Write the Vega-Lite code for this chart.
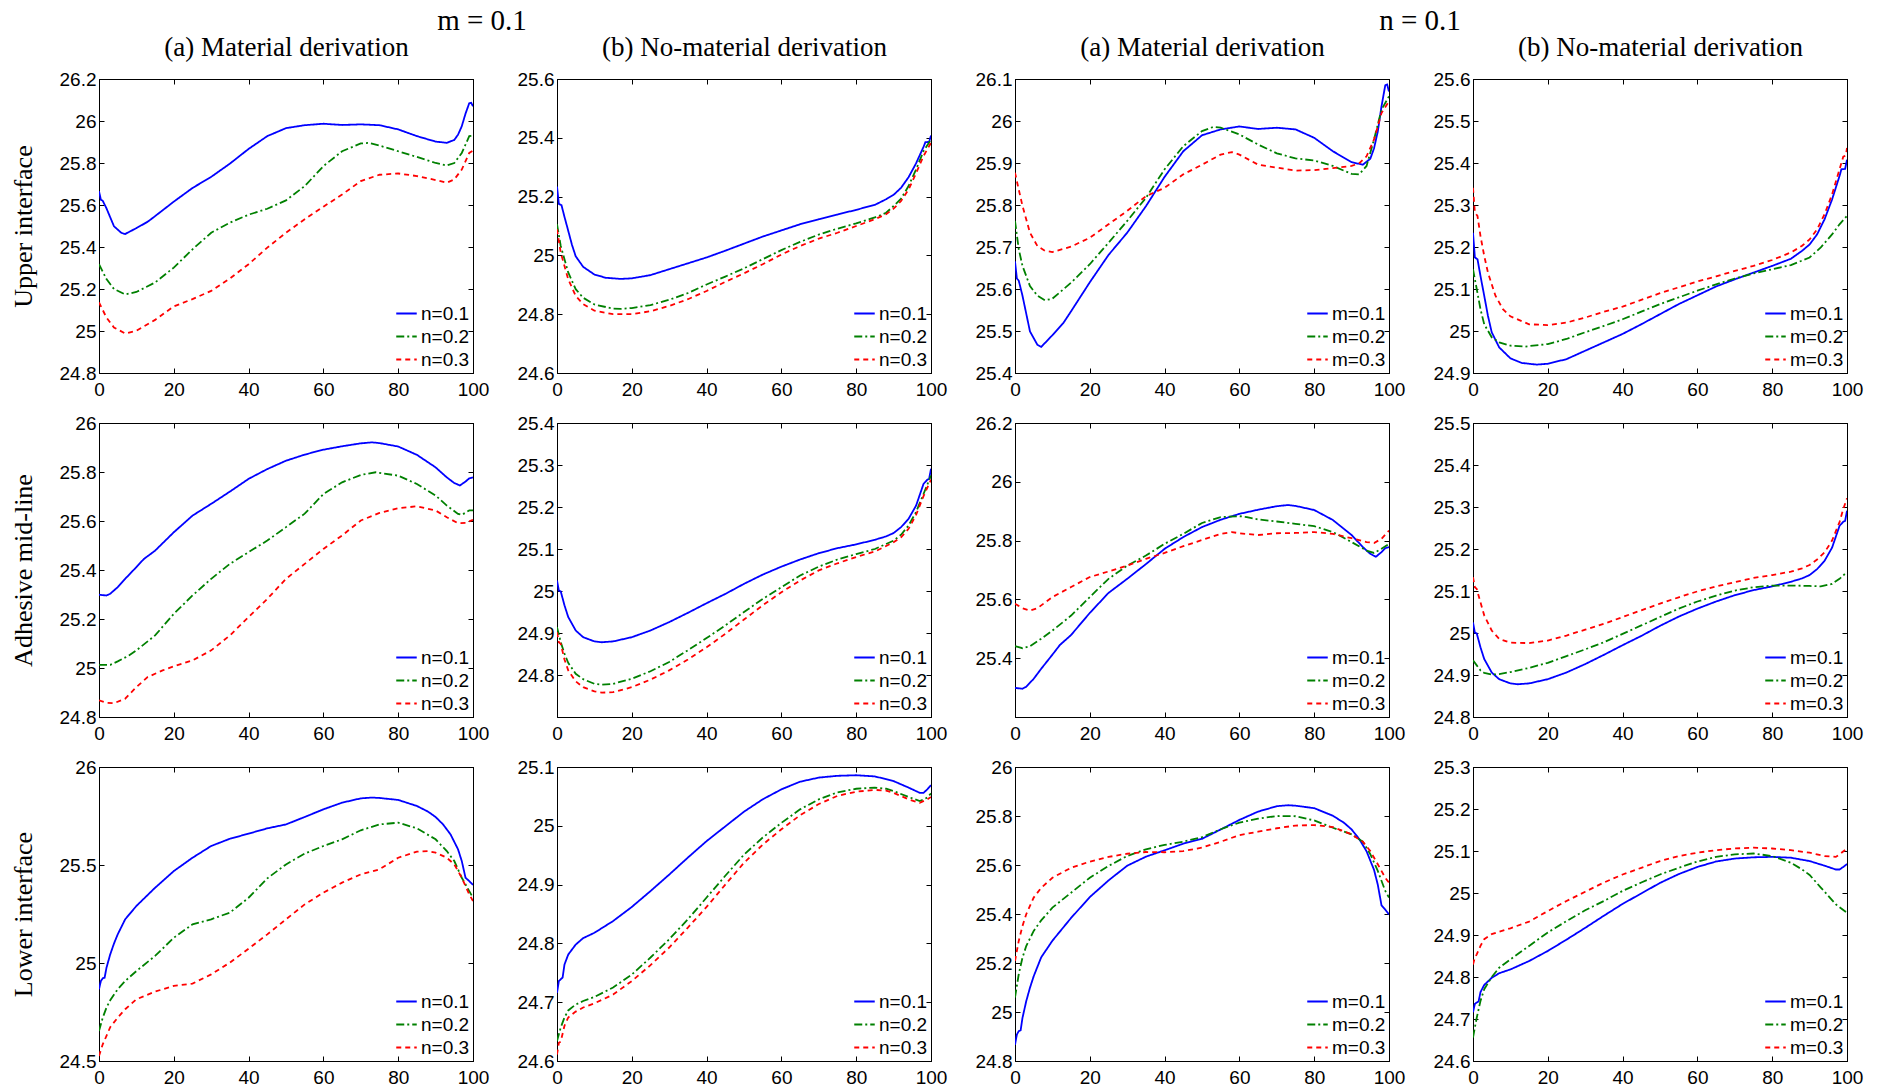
{
"$schema": "https://vega.github.io/schema/vega-lite/v6.json",
"background": "white",
"padding": {"left": 9, "top": 6, "right": 5, "bottom": 5},
"config": {
  "view": {"stroke": "black", "strokeWidth": 1},
  "axis": {"grid": false, "domainColor": "black", "domainWidth": 1, "tickColor": "black", "tickSize": -5, "tickWidth": 1, "labelColor": "black", "labelFont": "Liberation Sans", "labelFontSize": 19, "labelFlush": false, "labelOverlap": false, "titleColor": "black", "titleFont": "Liberation Serif", "titleFontSize": 26, "titleFontWeight": "normal"},
  "axisX": {"labelPadding": 12, "titlePadding": 17},
  "axisY": {"labelPadding": 8, "titlePadding": 23},
  "legend": {"orient": "bottom-right", "offset": 3, "padding": 0, "labelFont": "Liberation Sans", "labelFontSize": 19, "labelColor": "black", "symbolType": "stroke", "symbolSize": 420, "symbolStrokeWidth": 1.8, "rowPadding": 1, "labelOffset": 3},
  "title": {"font": "Liberation Serif", "fontSize": 29, "fontWeight": "normal", "color": "black", "anchor": "middle", "offset": -2}
},
"data": {"values": [
{"p":1,"s":"n=0.1","x":0,"y":25.666},{"p":1,"s":"n=0.1","x":0.5,"y":25.625},{"p":1,"s":"n=0.1","x":1,"y":25.62},{"p":1,"s":"n=0.1","x":2,"y":25.584},{"p":1,"s":"n=0.1","x":4,"y":25.499},{"p":1,"s":"n=0.1","x":6,"y":25.467},{"p":1,"s":"n=0.1","x":7,"y":25.462},{"p":1,"s":"n=0.1","x":10,"y":25.49},{"p":1,"s":"n=0.1","x":13,"y":25.52},{"p":1,"s":"n=0.1","x":15,"y":25.547},{"p":1,"s":"n=0.1","x":20,"y":25.616},{"p":1,"s":"n=0.1","x":25,"y":25.681},{"p":1,"s":"n=0.1","x":30,"y":25.734},{"p":1,"s":"n=0.1","x":35,"y":25.797},{"p":1,"s":"n=0.1","x":40,"y":25.867},{"p":1,"s":"n=0.1","x":45,"y":25.928},{"p":1,"s":"n=0.1","x":50,"y":25.966},{"p":1,"s":"n=0.1","x":55,"y":25.98},{"p":1,"s":"n=0.1","x":60,"y":25.987},{"p":1,"s":"n=0.1","x":65,"y":25.981},{"p":1,"s":"n=0.1","x":70,"y":25.984},{"p":1,"s":"n=0.1","x":75,"y":25.98},{"p":1,"s":"n=0.1","x":80,"y":25.96},{"p":1,"s":"n=0.1","x":85,"y":25.928},{"p":1,"s":"n=0.1","x":90,"y":25.902},{"p":1,"s":"n=0.1","x":93,"y":25.896},{"p":1,"s":"n=0.1","x":95,"y":25.91},{"p":1,"s":"n=0.1","x":96,"y":25.935},{"p":1,"s":"n=0.1","x":97,"y":25.975},{"p":1,"s":"n=0.1","x":98,"y":26.035},{"p":1,"s":"n=0.1","x":99,"y":26.085},{"p":1,"s":"n=0.1","x":99.5,"y":26.087},{"p":1,"s":"n=0.1","x":100,"y":26.07},
{"p":1,"s":"n=0.2","x":0,"y":25.318},{"p":1,"s":"n=0.2","x":2,"y":25.247},{"p":1,"s":"n=0.2","x":4,"y":25.2},{"p":1,"s":"n=0.2","x":7,"y":25.174},{"p":1,"s":"n=0.2","x":10,"y":25.186},{"p":1,"s":"n=0.2","x":15,"y":25.231},{"p":1,"s":"n=0.2","x":20,"y":25.302},{"p":1,"s":"n=0.2","x":25,"y":25.389},{"p":1,"s":"n=0.2","x":30,"y":25.468},{"p":1,"s":"n=0.2","x":35,"y":25.516},{"p":1,"s":"n=0.2","x":40,"y":25.554},{"p":1,"s":"n=0.2","x":45,"y":25.582},{"p":1,"s":"n=0.2","x":50,"y":25.622},{"p":1,"s":"n=0.2","x":55,"y":25.69},{"p":1,"s":"n=0.2","x":60,"y":25.785},{"p":1,"s":"n=0.2","x":65,"y":25.856},{"p":1,"s":"n=0.2","x":70,"y":25.893},{"p":1,"s":"n=0.2","x":72,"y":25.896},{"p":1,"s":"n=0.2","x":75,"y":25.883},{"p":1,"s":"n=0.2","x":80,"y":25.856},{"p":1,"s":"n=0.2","x":85,"y":25.829},{"p":1,"s":"n=0.2","x":90,"y":25.8},{"p":1,"s":"n=0.2","x":93,"y":25.788},{"p":1,"s":"n=0.2","x":95,"y":25.8},{"p":1,"s":"n=0.2","x":97,"y":25.848},{"p":1,"s":"n=0.2","x":99,"y":25.928},{"p":1,"s":"n=0.2","x":100,"y":25.93},
{"p":1,"s":"n=0.3","x":0,"y":25.136},{"p":1,"s":"n=0.3","x":2,"y":25.064},{"p":1,"s":"n=0.3","x":4,"y":25.017},{"p":1,"s":"n=0.3","x":7,"y":24.988},{"p":1,"s":"n=0.3","x":10,"y":25.001},{"p":1,"s":"n=0.3","x":15,"y":25.053},{"p":1,"s":"n=0.3","x":20,"y":25.117},{"p":1,"s":"n=0.3","x":25,"y":25.152},{"p":1,"s":"n=0.3","x":30,"y":25.191},{"p":1,"s":"n=0.3","x":35,"y":25.25},{"p":1,"s":"n=0.3","x":40,"y":25.318},{"p":1,"s":"n=0.3","x":45,"y":25.397},{"p":1,"s":"n=0.3","x":50,"y":25.468},{"p":1,"s":"n=0.3","x":55,"y":25.532},{"p":1,"s":"n=0.3","x":60,"y":25.592},{"p":1,"s":"n=0.3","x":65,"y":25.65},{"p":1,"s":"n=0.3","x":70,"y":25.714},{"p":1,"s":"n=0.3","x":75,"y":25.744},{"p":1,"s":"n=0.3","x":80,"y":25.75},{"p":1,"s":"n=0.3","x":85,"y":25.738},{"p":1,"s":"n=0.3","x":90,"y":25.719},{"p":1,"s":"n=0.3","x":93,"y":25.706},{"p":1,"s":"n=0.3","x":95,"y":25.722},{"p":1,"s":"n=0.3","x":97,"y":25.769},{"p":1,"s":"n=0.3","x":99,"y":25.848},{"p":1,"s":"n=0.3","x":100,"y":25.859},

{"p":2,"s":"n=0.1","x":0,"y":25.234},{"p":2,"s":"n=0.1","x":0.5,"y":25.175},{"p":2,"s":"n=0.1","x":1.2,"y":25.171},{"p":2,"s":"n=0.1","x":2,"y":25.131},{"p":2,"s":"n=0.1","x":3,"y":25.084},{"p":2,"s":"n=0.1","x":4,"y":25.036},{"p":2,"s":"n=0.1","x":5,"y":24.997},{"p":2,"s":"n=0.1","x":7,"y":24.961},{"p":2,"s":"n=0.1","x":10,"y":24.935},{"p":2,"s":"n=0.1","x":13,"y":24.924},{"p":2,"s":"n=0.1","x":17,"y":24.92},{"p":2,"s":"n=0.1","x":20,"y":24.922},{"p":2,"s":"n=0.1","x":25,"y":24.933},{"p":2,"s":"n=0.1","x":30,"y":24.953},{"p":2,"s":"n=0.1","x":35,"y":24.973},{"p":2,"s":"n=0.1","x":40,"y":24.993},{"p":2,"s":"n=0.1","x":45,"y":25.016},{"p":2,"s":"n=0.1","x":50,"y":25.04},{"p":2,"s":"n=0.1","x":55,"y":25.064},{"p":2,"s":"n=0.1","x":60,"y":25.085},{"p":2,"s":"n=0.1","x":65,"y":25.106},{"p":2,"s":"n=0.1","x":70,"y":25.123},{"p":2,"s":"n=0.1","x":75,"y":25.139},{"p":2,"s":"n=0.1","x":80,"y":25.155},{"p":2,"s":"n=0.1","x":85,"y":25.172},{"p":2,"s":"n=0.1","x":88,"y":25.191},{"p":2,"s":"n=0.1","x":90,"y":25.206},{"p":2,"s":"n=0.1","x":92,"y":25.23},{"p":2,"s":"n=0.1","x":94,"y":25.266},{"p":2,"s":"n=0.1","x":96,"y":25.313},{"p":2,"s":"n=0.1","x":98,"y":25.369},{"p":2,"s":"n=0.1","x":98.5,"y":25.385},{"p":2,"s":"n=0.1","x":99.5,"y":25.386},{"p":2,"s":"n=0.1","x":100,"y":25.408},
{"p":2,"s":"n=0.2","x":0,"y":25.106},{"p":2,"s":"n=0.2","x":1,"y":25.032},{"p":2,"s":"n=0.2","x":2,"y":24.987},{"p":2,"s":"n=0.2","x":3,"y":24.942},{"p":2,"s":"n=0.2","x":5,"y":24.885},{"p":2,"s":"n=0.2","x":7,"y":24.856},{"p":2,"s":"n=0.2","x":10,"y":24.833},{"p":2,"s":"n=0.2","x":15,"y":24.819},{"p":2,"s":"n=0.2","x":17,"y":24.818},{"p":2,"s":"n=0.2","x":20,"y":24.821},{"p":2,"s":"n=0.2","x":25,"y":24.831},{"p":2,"s":"n=0.2","x":30,"y":24.849},{"p":2,"s":"n=0.2","x":35,"y":24.872},{"p":2,"s":"n=0.2","x":40,"y":24.901},{"p":2,"s":"n=0.2","x":45,"y":24.928},{"p":2,"s":"n=0.2","x":50,"y":24.956},{"p":2,"s":"n=0.2","x":55,"y":24.987},{"p":2,"s":"n=0.2","x":60,"y":25.018},{"p":2,"s":"n=0.2","x":65,"y":25.046},{"p":2,"s":"n=0.2","x":70,"y":25.071},{"p":2,"s":"n=0.2","x":75,"y":25.091},{"p":2,"s":"n=0.2","x":80,"y":25.109},{"p":2,"s":"n=0.2","x":85,"y":25.129},{"p":2,"s":"n=0.2","x":88,"y":25.145},{"p":2,"s":"n=0.2","x":90,"y":25.168},{"p":2,"s":"n=0.2","x":92,"y":25.193},{"p":2,"s":"n=0.2","x":94,"y":25.236},{"p":2,"s":"n=0.2","x":96,"y":25.292},{"p":2,"s":"n=0.2","x":98,"y":25.355},{"p":2,"s":"n=0.2","x":100,"y":25.394},
{"p":2,"s":"n=0.3","x":0,"y":25.089},{"p":2,"s":"n=0.3","x":1,"y":25.009},{"p":2,"s":"n=0.3","x":2,"y":24.964},{"p":2,"s":"n=0.3","x":3,"y":24.919},{"p":2,"s":"n=0.3","x":5,"y":24.862},{"p":2,"s":"n=0.3","x":7,"y":24.834},{"p":2,"s":"n=0.3","x":10,"y":24.812},{"p":2,"s":"n=0.3","x":15,"y":24.8},{"p":2,"s":"n=0.3","x":20,"y":24.8},{"p":2,"s":"n=0.3","x":25,"y":24.81},{"p":2,"s":"n=0.3","x":30,"y":24.828},{"p":2,"s":"n=0.3","x":35,"y":24.851},{"p":2,"s":"n=0.3","x":40,"y":24.879},{"p":2,"s":"n=0.3","x":45,"y":24.91},{"p":2,"s":"n=0.3","x":50,"y":24.939},{"p":2,"s":"n=0.3","x":55,"y":24.97},{"p":2,"s":"n=0.3","x":60,"y":25.003},{"p":2,"s":"n=0.3","x":65,"y":25.032},{"p":2,"s":"n=0.3","x":70,"y":25.057},{"p":2,"s":"n=0.3","x":75,"y":25.077},{"p":2,"s":"n=0.3","x":80,"y":25.1},{"p":2,"s":"n=0.3","x":85,"y":25.123},{"p":2,"s":"n=0.3","x":88,"y":25.14},{"p":2,"s":"n=0.3","x":90,"y":25.159},{"p":2,"s":"n=0.3","x":92,"y":25.185},{"p":2,"s":"n=0.3","x":94,"y":25.224},{"p":2,"s":"n=0.3","x":96,"y":25.279},{"p":2,"s":"n=0.3","x":98,"y":25.338},{"p":2,"s":"n=0.3","x":100,"y":25.383},

{"p":3,"s":"m=0.1","x":0,"y":25.666},{"p":3,"s":"m=0.1","x":0.5,"y":25.625},{"p":3,"s":"m=0.1","x":1,"y":25.62},{"p":3,"s":"m=0.1","x":2,"y":25.584},{"p":3,"s":"m=0.1","x":4,"y":25.499},{"p":3,"s":"m=0.1","x":6,"y":25.467},{"p":3,"s":"m=0.1","x":7,"y":25.462},{"p":3,"s":"m=0.1","x":10,"y":25.49},{"p":3,"s":"m=0.1","x":13,"y":25.52},{"p":3,"s":"m=0.1","x":15,"y":25.547},{"p":3,"s":"m=0.1","x":20,"y":25.616},{"p":3,"s":"m=0.1","x":25,"y":25.681},{"p":3,"s":"m=0.1","x":30,"y":25.734},{"p":3,"s":"m=0.1","x":35,"y":25.797},{"p":3,"s":"m=0.1","x":40,"y":25.867},{"p":3,"s":"m=0.1","x":45,"y":25.928},{"p":3,"s":"m=0.1","x":50,"y":25.966},{"p":3,"s":"m=0.1","x":55,"y":25.98},{"p":3,"s":"m=0.1","x":60,"y":25.987},{"p":3,"s":"m=0.1","x":65,"y":25.981},{"p":3,"s":"m=0.1","x":70,"y":25.984},{"p":3,"s":"m=0.1","x":75,"y":25.98},{"p":3,"s":"m=0.1","x":80,"y":25.96},{"p":3,"s":"m=0.1","x":85,"y":25.928},{"p":3,"s":"m=0.1","x":90,"y":25.902},{"p":3,"s":"m=0.1","x":93,"y":25.896},{"p":3,"s":"m=0.1","x":95,"y":25.91},{"p":3,"s":"m=0.1","x":96,"y":25.935},{"p":3,"s":"m=0.1","x":97,"y":25.975},{"p":3,"s":"m=0.1","x":98,"y":26.035},{"p":3,"s":"m=0.1","x":99,"y":26.085},{"p":3,"s":"m=0.1","x":99.5,"y":26.087},{"p":3,"s":"m=0.1","x":100,"y":26.07},
{"p":3,"s":"m=0.2","x":0,"y":25.762},{"p":3,"s":"m=0.2","x":1,"y":25.695},{"p":3,"s":"m=0.2","x":2,"y":25.655},{"p":3,"s":"m=0.2","x":4,"y":25.607},{"p":3,"s":"m=0.2","x":6,"y":25.584},{"p":3,"s":"m=0.2","x":8,"y":25.573},{"p":3,"s":"m=0.2","x":10,"y":25.577},{"p":3,"s":"m=0.2","x":15,"y":25.615},{"p":3,"s":"m=0.2","x":20,"y":25.659},{"p":3,"s":"m=0.2","x":25,"y":25.71},{"p":3,"s":"m=0.2","x":30,"y":25.762},{"p":3,"s":"m=0.2","x":35,"y":25.817},{"p":3,"s":"m=0.2","x":40,"y":25.885},{"p":3,"s":"m=0.2","x":45,"y":25.94},{"p":3,"s":"m=0.2","x":50,"y":25.976},{"p":3,"s":"m=0.2","x":53,"y":25.986},{"p":3,"s":"m=0.2","x":55,"y":25.984},{"p":3,"s":"m=0.2","x":60,"y":25.968},{"p":3,"s":"m=0.2","x":65,"y":25.944},{"p":3,"s":"m=0.2","x":70,"y":25.923},{"p":3,"s":"m=0.2","x":75,"y":25.911},{"p":3,"s":"m=0.2","x":80,"y":25.906},{"p":3,"s":"m=0.2","x":85,"y":25.893},{"p":3,"s":"m=0.2","x":90,"y":25.874},{"p":3,"s":"m=0.2","x":92,"y":25.873},{"p":3,"s":"m=0.2","x":94,"y":25.893},{"p":3,"s":"m=0.2","x":96,"y":25.956},{"p":3,"s":"m=0.2","x":98,"y":26.027},{"p":3,"s":"m=0.2","x":100,"y":26.059},
{"p":3,"s":"m=0.3","x":0,"y":25.877},{"p":3,"s":"m=0.3","x":1,"y":25.837},{"p":3,"s":"m=0.3","x":2,"y":25.798},{"p":3,"s":"m=0.3","x":4,"y":25.734},{"p":3,"s":"m=0.3","x":6,"y":25.702},{"p":3,"s":"m=0.3","x":8,"y":25.691},{"p":3,"s":"m=0.3","x":10,"y":25.688},{"p":3,"s":"m=0.3","x":15,"y":25.701},{"p":3,"s":"m=0.3","x":20,"y":25.722},{"p":3,"s":"m=0.3","x":25,"y":25.754},{"p":3,"s":"m=0.3","x":30,"y":25.786},{"p":3,"s":"m=0.3","x":35,"y":25.821},{"p":3,"s":"m=0.3","x":40,"y":25.841},{"p":3,"s":"m=0.3","x":45,"y":25.873},{"p":3,"s":"m=0.3","x":50,"y":25.896},{"p":3,"s":"m=0.3","x":55,"y":25.92},{"p":3,"s":"m=0.3","x":58,"y":25.926},{"p":3,"s":"m=0.3","x":60,"y":25.92},{"p":3,"s":"m=0.3","x":65,"y":25.896},{"p":3,"s":"m=0.3","x":70,"y":25.889},{"p":3,"s":"m=0.3","x":75,"y":25.882},{"p":3,"s":"m=0.3","x":80,"y":25.883},{"p":3,"s":"m=0.3","x":85,"y":25.888},{"p":3,"s":"m=0.3","x":90,"y":25.893},{"p":3,"s":"m=0.3","x":92,"y":25.899},{"p":3,"s":"m=0.3","x":94,"y":25.916},{"p":3,"s":"m=0.3","x":96,"y":25.956},{"p":3,"s":"m=0.3","x":98,"y":26.019},{"p":3,"s":"m=0.3","x":100,"y":26.047},

{"p":4,"s":"m=0.1","x":0,"y":25.234},{"p":4,"s":"m=0.1","x":0.5,"y":25.175},{"p":4,"s":"m=0.1","x":1.2,"y":25.171},{"p":4,"s":"m=0.1","x":2,"y":25.131},{"p":4,"s":"m=0.1","x":3,"y":25.084},{"p":4,"s":"m=0.1","x":4,"y":25.036},{"p":4,"s":"m=0.1","x":5,"y":24.997},{"p":4,"s":"m=0.1","x":7,"y":24.961},{"p":4,"s":"m=0.1","x":10,"y":24.935},{"p":4,"s":"m=0.1","x":13,"y":24.924},{"p":4,"s":"m=0.1","x":17,"y":24.92},{"p":4,"s":"m=0.1","x":20,"y":24.922},{"p":4,"s":"m=0.1","x":25,"y":24.933},{"p":4,"s":"m=0.1","x":30,"y":24.953},{"p":4,"s":"m=0.1","x":35,"y":24.973},{"p":4,"s":"m=0.1","x":40,"y":24.993},{"p":4,"s":"m=0.1","x":45,"y":25.016},{"p":4,"s":"m=0.1","x":50,"y":25.04},{"p":4,"s":"m=0.1","x":55,"y":25.064},{"p":4,"s":"m=0.1","x":60,"y":25.085},{"p":4,"s":"m=0.1","x":65,"y":25.106},{"p":4,"s":"m=0.1","x":70,"y":25.123},{"p":4,"s":"m=0.1","x":75,"y":25.139},{"p":4,"s":"m=0.1","x":80,"y":25.155},{"p":4,"s":"m=0.1","x":85,"y":25.172},{"p":4,"s":"m=0.1","x":88,"y":25.191},{"p":4,"s":"m=0.1","x":90,"y":25.206},{"p":4,"s":"m=0.1","x":92,"y":25.23},{"p":4,"s":"m=0.1","x":94,"y":25.266},{"p":4,"s":"m=0.1","x":96,"y":25.313},{"p":4,"s":"m=0.1","x":98,"y":25.369},{"p":4,"s":"m=0.1","x":98.5,"y":25.385},{"p":4,"s":"m=0.1","x":99.5,"y":25.386},{"p":4,"s":"m=0.1","x":100,"y":25.408},
{"p":4,"s":"m=0.2","x":0,"y":25.147},{"p":4,"s":"m=0.2","x":1,"y":25.1},{"p":4,"s":"m=0.2","x":2,"y":25.052},{"p":4,"s":"m=0.2","x":3,"y":25.016},{"p":4,"s":"m=0.2","x":5,"y":24.985},{"p":4,"s":"m=0.2","x":7,"y":24.973},{"p":4,"s":"m=0.2","x":10,"y":24.965},{"p":4,"s":"m=0.2","x":14,"y":24.963},{"p":4,"s":"m=0.2","x":20,"y":24.969},{"p":4,"s":"m=0.2","x":25,"y":24.981},{"p":4,"s":"m=0.2","x":30,"y":24.997},{"p":4,"s":"m=0.2","x":35,"y":25.012},{"p":4,"s":"m=0.2","x":40,"y":25.028},{"p":4,"s":"m=0.2","x":45,"y":25.046},{"p":4,"s":"m=0.2","x":50,"y":25.064},{"p":4,"s":"m=0.2","x":55,"y":25.08},{"p":4,"s":"m=0.2","x":60,"y":25.096},{"p":4,"s":"m=0.2","x":65,"y":25.111},{"p":4,"s":"m=0.2","x":70,"y":25.125},{"p":4,"s":"m=0.2","x":75,"y":25.137},{"p":4,"s":"m=0.2","x":80,"y":25.147},{"p":4,"s":"m=0.2","x":85,"y":25.157},{"p":4,"s":"m=0.2","x":90,"y":25.175},{"p":4,"s":"m=0.2","x":93,"y":25.199},{"p":4,"s":"m=0.2","x":96,"y":25.23},{"p":4,"s":"m=0.2","x":98,"y":25.254},{"p":4,"s":"m=0.2","x":100,"y":25.274},
{"p":4,"s":"m=0.3","x":0,"y":25.341},{"p":4,"s":"m=0.3","x":0.5,"y":25.282},{"p":4,"s":"m=0.3","x":1.2,"y":25.274},{"p":4,"s":"m=0.3","x":2,"y":25.226},{"p":4,"s":"m=0.3","x":3,"y":25.179},{"p":4,"s":"m=0.3","x":4,"y":25.139},{"p":4,"s":"m=0.3","x":6,"y":25.084},{"p":4,"s":"m=0.3","x":8,"y":25.052},{"p":4,"s":"m=0.3","x":10,"y":25.035},{"p":4,"s":"m=0.3","x":15,"y":25.016},{"p":4,"s":"m=0.3","x":20,"y":25.014},{"p":4,"s":"m=0.3","x":25,"y":25.02},{"p":4,"s":"m=0.3","x":30,"y":25.032},{"p":4,"s":"m=0.3","x":35,"y":25.046},{"p":4,"s":"m=0.3","x":40,"y":25.058},{"p":4,"s":"m=0.3","x":45,"y":25.074},{"p":4,"s":"m=0.3","x":50,"y":25.09},{"p":4,"s":"m=0.3","x":55,"y":25.104},{"p":4,"s":"m=0.3","x":60,"y":25.118},{"p":4,"s":"m=0.3","x":65,"y":25.13},{"p":4,"s":"m=0.3","x":70,"y":25.143},{"p":4,"s":"m=0.3","x":75,"y":25.155},{"p":4,"s":"m=0.3","x":80,"y":25.169},{"p":4,"s":"m=0.3","x":85,"y":25.187},{"p":4,"s":"m=0.3","x":88,"y":25.203},{"p":4,"s":"m=0.3","x":90,"y":25.218},{"p":4,"s":"m=0.3","x":92,"y":25.242},{"p":4,"s":"m=0.3","x":94,"y":25.278},{"p":4,"s":"m=0.3","x":96,"y":25.325},{"p":4,"s":"m=0.3","x":98,"y":25.385},{"p":4,"s":"m=0.3","x":99,"y":25.415},{"p":4,"s":"m=0.3","x":99.7,"y":25.418},{"p":4,"s":"m=0.3","x":100,"y":25.436},

{"p":5,"s":"n=0.1","x":0,"y":25.299},{"p":5,"s":"n=0.1","x":2,"y":25.296},{"p":5,"s":"n=0.1","x":3,"y":25.303},{"p":5,"s":"n=0.1","x":5,"y":25.33},{"p":5,"s":"n=0.1","x":7,"y":25.364},{"p":5,"s":"n=0.1","x":10,"y":25.412},{"p":5,"s":"n=0.1","x":12,"y":25.445},{"p":5,"s":"n=0.1","x":15,"y":25.479},{"p":5,"s":"n=0.1","x":20,"y":25.554},{"p":5,"s":"n=0.1","x":25,"y":25.622},{"p":5,"s":"n=0.1","x":30,"y":25.67},{"p":5,"s":"n=0.1","x":35,"y":25.72},{"p":5,"s":"n=0.1","x":40,"y":25.772},{"p":5,"s":"n=0.1","x":45,"y":25.812},{"p":5,"s":"n=0.1","x":50,"y":25.846},{"p":5,"s":"n=0.1","x":55,"y":25.871},{"p":5,"s":"n=0.1","x":60,"y":25.891},{"p":5,"s":"n=0.1","x":65,"y":25.905},{"p":5,"s":"n=0.1","x":70,"y":25.917},{"p":5,"s":"n=0.1","x":73,"y":25.921},{"p":5,"s":"n=0.1","x":75,"y":25.918},{"p":5,"s":"n=0.1","x":80,"y":25.904},{"p":5,"s":"n=0.1","x":85,"y":25.87},{"p":5,"s":"n=0.1","x":90,"y":25.819},{"p":5,"s":"n=0.1","x":93,"y":25.778},{"p":5,"s":"n=0.1","x":95,"y":25.755},{"p":5,"s":"n=0.1","x":96.5,"y":25.745},{"p":5,"s":"n=0.1","x":98,"y":25.761},{"p":5,"s":"n=0.1","x":99,"y":25.774},{"p":5,"s":"n=0.1","x":100,"y":25.778},
{"p":5,"s":"n=0.2","x":0,"y":25.013},{"p":5,"s":"n=0.2","x":3,"y":25.013},{"p":5,"s":"n=0.2","x":5,"y":25.027},{"p":5,"s":"n=0.2","x":8,"y":25.051},{"p":5,"s":"n=0.2","x":10,"y":25.072},{"p":5,"s":"n=0.2","x":15,"y":25.133},{"p":5,"s":"n=0.2","x":20,"y":25.221},{"p":5,"s":"n=0.2","x":25,"y":25.296},{"p":5,"s":"n=0.2","x":30,"y":25.364},{"p":5,"s":"n=0.2","x":35,"y":25.425},{"p":5,"s":"n=0.2","x":40,"y":25.473},{"p":5,"s":"n=0.2","x":45,"y":25.52},{"p":5,"s":"n=0.2","x":50,"y":25.575},{"p":5,"s":"n=0.2","x":55,"y":25.63},{"p":5,"s":"n=0.2","x":60,"y":25.71},{"p":5,"s":"n=0.2","x":65,"y":25.758},{"p":5,"s":"n=0.2","x":70,"y":25.788},{"p":5,"s":"n=0.2","x":74,"y":25.799},{"p":5,"s":"n=0.2","x":80,"y":25.785},{"p":5,"s":"n=0.2","x":85,"y":25.751},{"p":5,"s":"n=0.2","x":90,"y":25.704},{"p":5,"s":"n=0.2","x":93,"y":25.663},{"p":5,"s":"n=0.2","x":96,"y":25.629},{"p":5,"s":"n=0.2","x":97,"y":25.625},{"p":5,"s":"n=0.2","x":99,"y":25.643},{"p":5,"s":"n=0.2","x":100,"y":25.643},
{"p":5,"s":"n=0.3","x":0,"y":24.868},{"p":5,"s":"n=0.3","x":2,"y":24.858},{"p":5,"s":"n=0.3","x":4,"y":24.856},{"p":5,"s":"n=0.3","x":7,"y":24.875},{"p":5,"s":"n=0.3","x":10,"y":24.922},{"p":5,"s":"n=0.3","x":13,"y":24.963},{"p":5,"s":"n=0.3","x":17,"y":24.99},{"p":5,"s":"n=0.3","x":20,"y":25.007},{"p":5,"s":"n=0.3","x":25,"y":25.031},{"p":5,"s":"n=0.3","x":30,"y":25.072},{"p":5,"s":"n=0.3","x":35,"y":25.133},{"p":5,"s":"n=0.3","x":40,"y":25.208},{"p":5,"s":"n=0.3","x":45,"y":25.282},{"p":5,"s":"n=0.3","x":50,"y":25.364},{"p":5,"s":"n=0.3","x":55,"y":25.425},{"p":5,"s":"n=0.3","x":60,"y":25.486},{"p":5,"s":"n=0.3","x":65,"y":25.541},{"p":5,"s":"n=0.3","x":70,"y":25.602},{"p":5,"s":"n=0.3","x":75,"y":25.633},{"p":5,"s":"n=0.3","x":80,"y":25.652},{"p":5,"s":"n=0.3","x":85,"y":25.66},{"p":5,"s":"n=0.3","x":90,"y":25.643},{"p":5,"s":"n=0.3","x":93,"y":25.615},{"p":5,"s":"n=0.3","x":96,"y":25.591},{"p":5,"s":"n=0.3","x":98,"y":25.592},{"p":5,"s":"n=0.3","x":100,"y":25.605},

{"p":6,"s":"n=0.1","x":0,"y":25.025},{"p":6,"s":"n=0.1","x":0.5,"y":25.001},{"p":6,"s":"n=0.1","x":1,"y":24.999},{"p":6,"s":"n=0.1","x":2,"y":24.966},{"p":6,"s":"n=0.1","x":3,"y":24.938},{"p":6,"s":"n=0.1","x":5,"y":24.906},{"p":6,"s":"n=0.1","x":7,"y":24.89},{"p":6,"s":"n=0.1","x":10,"y":24.88},{"p":6,"s":"n=0.1","x":12,"y":24.878},{"p":6,"s":"n=0.1","x":15,"y":24.88},{"p":6,"s":"n=0.1","x":20,"y":24.89},{"p":6,"s":"n=0.1","x":25,"y":24.906},{"p":6,"s":"n=0.1","x":30,"y":24.926},{"p":6,"s":"n=0.1","x":35,"y":24.948},{"p":6,"s":"n=0.1","x":40,"y":24.971},{"p":6,"s":"n=0.1","x":45,"y":24.993},{"p":6,"s":"n=0.1","x":50,"y":25.017},{"p":6,"s":"n=0.1","x":55,"y":25.039},{"p":6,"s":"n=0.1","x":60,"y":25.058},{"p":6,"s":"n=0.1","x":65,"y":25.075},{"p":6,"s":"n=0.1","x":70,"y":25.09},{"p":6,"s":"n=0.1","x":75,"y":25.102},{"p":6,"s":"n=0.1","x":80,"y":25.111},{"p":6,"s":"n=0.1","x":85,"y":25.122},{"p":6,"s":"n=0.1","x":88,"y":25.13},{"p":6,"s":"n=0.1","x":90,"y":25.138},{"p":6,"s":"n=0.1","x":92,"y":25.152},{"p":6,"s":"n=0.1","x":94,"y":25.172},{"p":6,"s":"n=0.1","x":96,"y":25.203},{"p":6,"s":"n=0.1","x":98,"y":25.255},{"p":6,"s":"n=0.1","x":99,"y":25.265},{"p":6,"s":"n=0.1","x":99.5,"y":25.267},{"p":6,"s":"n=0.1","x":100,"y":25.291},
{"p":6,"s":"n=0.2","x":0,"y":24.914},{"p":6,"s":"n=0.2","x":1,"y":24.878},{"p":6,"s":"n=0.2","x":2,"y":24.851},{"p":6,"s":"n=0.2","x":3,"y":24.829},{"p":6,"s":"n=0.2","x":5,"y":24.803},{"p":6,"s":"n=0.2","x":7,"y":24.79},{"p":6,"s":"n=0.2","x":10,"y":24.779},{"p":6,"s":"n=0.2","x":12,"y":24.777},{"p":6,"s":"n=0.2","x":15,"y":24.779},{"p":6,"s":"n=0.2","x":20,"y":24.791},{"p":6,"s":"n=0.2","x":25,"y":24.809},{"p":6,"s":"n=0.2","x":30,"y":24.831},{"p":6,"s":"n=0.2","x":35,"y":24.859},{"p":6,"s":"n=0.2","x":40,"y":24.888},{"p":6,"s":"n=0.2","x":45,"y":24.918},{"p":6,"s":"n=0.2","x":50,"y":24.95},{"p":6,"s":"n=0.2","x":55,"y":24.981},{"p":6,"s":"n=0.2","x":60,"y":25.009},{"p":6,"s":"n=0.2","x":65,"y":25.037},{"p":6,"s":"n=0.2","x":70,"y":25.058},{"p":6,"s":"n=0.2","x":75,"y":25.075},{"p":6,"s":"n=0.2","x":80,"y":25.088},{"p":6,"s":"n=0.2","x":85,"y":25.1},{"p":6,"s":"n=0.2","x":88,"y":25.112},{"p":6,"s":"n=0.2","x":90,"y":25.12},{"p":6,"s":"n=0.2","x":92,"y":25.134},{"p":6,"s":"n=0.2","x":94,"y":25.156},{"p":6,"s":"n=0.2","x":96,"y":25.188},{"p":6,"s":"n=0.2","x":98,"y":25.231},{"p":6,"s":"n=0.2","x":100,"y":25.275},
{"p":6,"s":"n=0.3","x":0,"y":24.902},{"p":6,"s":"n=0.3","x":0.5,"y":24.878},{"p":6,"s":"n=0.3","x":1,"y":24.874},{"p":6,"s":"n=0.3","x":2,"y":24.837},{"p":6,"s":"n=0.3","x":3,"y":24.811},{"p":6,"s":"n=0.3","x":5,"y":24.785},{"p":6,"s":"n=0.3","x":7,"y":24.771},{"p":6,"s":"n=0.3","x":10,"y":24.761},{"p":6,"s":"n=0.3","x":12,"y":24.758},{"p":6,"s":"n=0.3","x":15,"y":24.759},{"p":6,"s":"n=0.3","x":20,"y":24.771},{"p":6,"s":"n=0.3","x":25,"y":24.789},{"p":6,"s":"n=0.3","x":30,"y":24.811},{"p":6,"s":"n=0.3","x":35,"y":24.837},{"p":6,"s":"n=0.3","x":40,"y":24.866},{"p":6,"s":"n=0.3","x":45,"y":24.898},{"p":6,"s":"n=0.3","x":50,"y":24.932},{"p":6,"s":"n=0.3","x":55,"y":24.966},{"p":6,"s":"n=0.3","x":60,"y":24.997},{"p":6,"s":"n=0.3","x":65,"y":25.025},{"p":6,"s":"n=0.3","x":70,"y":25.049},{"p":6,"s":"n=0.3","x":75,"y":25.066},{"p":6,"s":"n=0.3","x":80,"y":25.081},{"p":6,"s":"n=0.3","x":85,"y":25.094},{"p":6,"s":"n=0.3","x":88,"y":25.107},{"p":6,"s":"n=0.3","x":90,"y":25.116},{"p":6,"s":"n=0.3","x":92,"y":25.128},{"p":6,"s":"n=0.3","x":94,"y":25.148},{"p":6,"s":"n=0.3","x":96,"y":25.181},{"p":6,"s":"n=0.3","x":98,"y":25.226},{"p":6,"s":"n=0.3","x":100,"y":25.265},

{"p":7,"s":"m=0.1","x":0,"y":25.299},{"p":7,"s":"m=0.1","x":2,"y":25.296},{"p":7,"s":"m=0.1","x":3,"y":25.303},{"p":7,"s":"m=0.1","x":5,"y":25.33},{"p":7,"s":"m=0.1","x":7,"y":25.364},{"p":7,"s":"m=0.1","x":10,"y":25.412},{"p":7,"s":"m=0.1","x":12,"y":25.445},{"p":7,"s":"m=0.1","x":15,"y":25.479},{"p":7,"s":"m=0.1","x":20,"y":25.554},{"p":7,"s":"m=0.1","x":25,"y":25.622},{"p":7,"s":"m=0.1","x":30,"y":25.67},{"p":7,"s":"m=0.1","x":35,"y":25.72},{"p":7,"s":"m=0.1","x":40,"y":25.772},{"p":7,"s":"m=0.1","x":45,"y":25.812},{"p":7,"s":"m=0.1","x":50,"y":25.846},{"p":7,"s":"m=0.1","x":55,"y":25.871},{"p":7,"s":"m=0.1","x":60,"y":25.891},{"p":7,"s":"m=0.1","x":65,"y":25.905},{"p":7,"s":"m=0.1","x":70,"y":25.917},{"p":7,"s":"m=0.1","x":73,"y":25.921},{"p":7,"s":"m=0.1","x":75,"y":25.918},{"p":7,"s":"m=0.1","x":80,"y":25.904},{"p":7,"s":"m=0.1","x":85,"y":25.87},{"p":7,"s":"m=0.1","x":90,"y":25.819},{"p":7,"s":"m=0.1","x":93,"y":25.778},{"p":7,"s":"m=0.1","x":95,"y":25.755},{"p":7,"s":"m=0.1","x":96.5,"y":25.745},{"p":7,"s":"m=0.1","x":98,"y":25.761},{"p":7,"s":"m=0.1","x":99,"y":25.774},{"p":7,"s":"m=0.1","x":100,"y":25.778},
{"p":7,"s":"m=0.2","x":0,"y":25.441},{"p":7,"s":"m=0.2","x":2,"y":25.434},{"p":7,"s":"m=0.2","x":4,"y":25.441},{"p":7,"s":"m=0.2","x":7,"y":25.466},{"p":7,"s":"m=0.2","x":10,"y":25.494},{"p":7,"s":"m=0.2","x":15,"y":25.545},{"p":7,"s":"m=0.2","x":20,"y":25.608},{"p":7,"s":"m=0.2","x":25,"y":25.67},{"p":7,"s":"m=0.2","x":30,"y":25.715},{"p":7,"s":"m=0.2","x":35,"y":25.749},{"p":7,"s":"m=0.2","x":40,"y":25.789},{"p":7,"s":"m=0.2","x":45,"y":25.823},{"p":7,"s":"m=0.2","x":50,"y":25.86},{"p":7,"s":"m=0.2","x":55,"y":25.88},{"p":7,"s":"m=0.2","x":60,"y":25.883},{"p":7,"s":"m=0.2","x":62,"y":25.88},{"p":7,"s":"m=0.2","x":65,"y":25.872},{"p":7,"s":"m=0.2","x":70,"y":25.865},{"p":7,"s":"m=0.2","x":75,"y":25.857},{"p":7,"s":"m=0.2","x":80,"y":25.849},{"p":7,"s":"m=0.2","x":85,"y":25.829},{"p":7,"s":"m=0.2","x":90,"y":25.795},{"p":7,"s":"m=0.2","x":94,"y":25.766},{"p":7,"s":"m=0.2","x":96,"y":25.758},{"p":7,"s":"m=0.2","x":98,"y":25.772},{"p":7,"s":"m=0.2","x":100,"y":25.789},
{"p":7,"s":"m=0.3","x":0,"y":25.585},{"p":7,"s":"m=0.3","x":2,"y":25.57},{"p":7,"s":"m=0.3","x":4,"y":25.562},{"p":7,"s":"m=0.3","x":6,"y":25.57},{"p":7,"s":"m=0.3","x":10,"y":25.608},{"p":7,"s":"m=0.3","x":15,"y":25.642},{"p":7,"s":"m=0.3","x":20,"y":25.676},{"p":7,"s":"m=0.3","x":25,"y":25.695},{"p":7,"s":"m=0.3","x":30,"y":25.715},{"p":7,"s":"m=0.3","x":35,"y":25.738},{"p":7,"s":"m=0.3","x":40,"y":25.758},{"p":7,"s":"m=0.3","x":45,"y":25.781},{"p":7,"s":"m=0.3","x":50,"y":25.802},{"p":7,"s":"m=0.3","x":55,"y":25.823},{"p":7,"s":"m=0.3","x":58,"y":25.829},{"p":7,"s":"m=0.3","x":60,"y":25.825},{"p":7,"s":"m=0.3","x":65,"y":25.819},{"p":7,"s":"m=0.3","x":70,"y":25.825},{"p":7,"s":"m=0.3","x":75,"y":25.826},{"p":7,"s":"m=0.3","x":80,"y":25.829},{"p":7,"s":"m=0.3","x":85,"y":25.823},{"p":7,"s":"m=0.3","x":90,"y":25.808},{"p":7,"s":"m=0.3","x":94,"y":25.795},{"p":7,"s":"m=0.3","x":96,"y":25.792},{"p":7,"s":"m=0.3","x":98,"y":25.806},{"p":7,"s":"m=0.3","x":100,"y":25.834},

{"p":8,"s":"m=0.1","x":0,"y":25.025},{"p":8,"s":"m=0.1","x":0.5,"y":25.001},{"p":8,"s":"m=0.1","x":1,"y":24.999},{"p":8,"s":"m=0.1","x":2,"y":24.966},{"p":8,"s":"m=0.1","x":3,"y":24.938},{"p":8,"s":"m=0.1","x":5,"y":24.906},{"p":8,"s":"m=0.1","x":7,"y":24.89},{"p":8,"s":"m=0.1","x":10,"y":24.88},{"p":8,"s":"m=0.1","x":12,"y":24.878},{"p":8,"s":"m=0.1","x":15,"y":24.88},{"p":8,"s":"m=0.1","x":20,"y":24.89},{"p":8,"s":"m=0.1","x":25,"y":24.906},{"p":8,"s":"m=0.1","x":30,"y":24.926},{"p":8,"s":"m=0.1","x":35,"y":24.948},{"p":8,"s":"m=0.1","x":40,"y":24.971},{"p":8,"s":"m=0.1","x":45,"y":24.993},{"p":8,"s":"m=0.1","x":50,"y":25.017},{"p":8,"s":"m=0.1","x":55,"y":25.039},{"p":8,"s":"m=0.1","x":60,"y":25.058},{"p":8,"s":"m=0.1","x":65,"y":25.075},{"p":8,"s":"m=0.1","x":70,"y":25.09},{"p":8,"s":"m=0.1","x":75,"y":25.102},{"p":8,"s":"m=0.1","x":80,"y":25.111},{"p":8,"s":"m=0.1","x":85,"y":25.122},{"p":8,"s":"m=0.1","x":88,"y":25.13},{"p":8,"s":"m=0.1","x":90,"y":25.138},{"p":8,"s":"m=0.1","x":92,"y":25.152},{"p":8,"s":"m=0.1","x":94,"y":25.172},{"p":8,"s":"m=0.1","x":96,"y":25.203},{"p":8,"s":"m=0.1","x":98,"y":25.255},{"p":8,"s":"m=0.1","x":99,"y":25.265},{"p":8,"s":"m=0.1","x":99.5,"y":25.267},{"p":8,"s":"m=0.1","x":100,"y":25.291},
{"p":8,"s":"m=0.2","x":0,"y":24.935},{"p":8,"s":"m=0.2","x":1,"y":24.923},{"p":8,"s":"m=0.2","x":2,"y":24.911},{"p":8,"s":"m=0.2","x":3,"y":24.905},{"p":8,"s":"m=0.2","x":5,"y":24.901},{"p":8,"s":"m=0.2","x":7,"y":24.902},{"p":8,"s":"m=0.2","x":10,"y":24.907},{"p":8,"s":"m=0.2","x":15,"y":24.917},{"p":8,"s":"m=0.2","x":20,"y":24.929},{"p":8,"s":"m=0.2","x":25,"y":24.945},{"p":8,"s":"m=0.2","x":30,"y":24.961},{"p":8,"s":"m=0.2","x":35,"y":24.978},{"p":8,"s":"m=0.2","x":40,"y":24.998},{"p":8,"s":"m=0.2","x":45,"y":25.018},{"p":8,"s":"m=0.2","x":50,"y":25.038},{"p":8,"s":"m=0.2","x":55,"y":25.058},{"p":8,"s":"m=0.2","x":60,"y":25.075},{"p":8,"s":"m=0.2","x":65,"y":25.089},{"p":8,"s":"m=0.2","x":70,"y":25.101},{"p":8,"s":"m=0.2","x":75,"y":25.109},{"p":8,"s":"m=0.2","x":80,"y":25.113},{"p":8,"s":"m=0.2","x":85,"y":25.113},{"p":8,"s":"m=0.2","x":90,"y":25.112},{"p":8,"s":"m=0.2","x":93,"y":25.111},{"p":8,"s":"m=0.2","x":96,"y":25.117},{"p":8,"s":"m=0.2","x":98,"y":25.129},{"p":8,"s":"m=0.2","x":100,"y":25.145},
{"p":8,"s":"m=0.3","x":0,"y":25.133},{"p":8,"s":"m=0.3","x":0.5,"y":25.109},{"p":8,"s":"m=0.3","x":1,"y":25.105},{"p":8,"s":"m=0.3","x":2,"y":25.073},{"p":8,"s":"m=0.3","x":3,"y":25.042},{"p":8,"s":"m=0.3","x":5,"y":25.006},{"p":8,"s":"m=0.3","x":7,"y":24.986},{"p":8,"s":"m=0.3","x":10,"y":24.977},{"p":8,"s":"m=0.3","x":15,"y":24.976},{"p":8,"s":"m=0.3","x":20,"y":24.982},{"p":8,"s":"m=0.3","x":25,"y":24.994},{"p":8,"s":"m=0.3","x":30,"y":25.008},{"p":8,"s":"m=0.3","x":35,"y":25.022},{"p":8,"s":"m=0.3","x":40,"y":25.038},{"p":8,"s":"m=0.3","x":45,"y":25.054},{"p":8,"s":"m=0.3","x":50,"y":25.07},{"p":8,"s":"m=0.3","x":55,"y":25.085},{"p":8,"s":"m=0.3","x":60,"y":25.099},{"p":8,"s":"m=0.3","x":65,"y":25.111},{"p":8,"s":"m=0.3","x":70,"y":25.121},{"p":8,"s":"m=0.3","x":75,"y":25.131},{"p":8,"s":"m=0.3","x":80,"y":25.138},{"p":8,"s":"m=0.3","x":85,"y":25.146},{"p":8,"s":"m=0.3","x":88,"y":25.154},{"p":8,"s":"m=0.3","x":90,"y":25.162},{"p":8,"s":"m=0.3","x":92,"y":25.175},{"p":8,"s":"m=0.3","x":94,"y":25.192},{"p":8,"s":"m=0.3","x":96,"y":25.22},{"p":8,"s":"m=0.3","x":98,"y":25.264},{"p":8,"s":"m=0.3","x":99,"y":25.295},{"p":8,"s":"m=0.3","x":100,"y":25.321},

{"p":9,"s":"n=0.1","x":0,"y":24.866},{"p":9,"s":"n=0.1","x":0.5,"y":24.908},{"p":9,"s":"n=0.1","x":1,"y":24.922},{"p":9,"s":"n=0.1","x":1.5,"y":24.925},{"p":9,"s":"n=0.1","x":2,"y":24.976},{"p":9,"s":"n=0.1","x":3,"y":25.044},{"p":9,"s":"n=0.1","x":4,"y":25.099},{"p":9,"s":"n=0.1","x":5,"y":25.146},{"p":9,"s":"n=0.1","x":7,"y":25.223},{"p":9,"s":"n=0.1","x":10,"y":25.291},{"p":9,"s":"n=0.1","x":15,"y":25.384},{"p":9,"s":"n=0.1","x":20,"y":25.469},{"p":9,"s":"n=0.1","x":25,"y":25.537},{"p":9,"s":"n=0.1","x":30,"y":25.597},{"p":9,"s":"n=0.1","x":35,"y":25.634},{"p":9,"s":"n=0.1","x":40,"y":25.66},{"p":9,"s":"n=0.1","x":45,"y":25.687},{"p":9,"s":"n=0.1","x":50,"y":25.707},{"p":9,"s":"n=0.1","x":55,"y":25.745},{"p":9,"s":"n=0.1","x":60,"y":25.784},{"p":9,"s":"n=0.1","x":65,"y":25.818},{"p":9,"s":"n=0.1","x":70,"y":25.84},{"p":9,"s":"n=0.1","x":73,"y":25.844},{"p":9,"s":"n=0.1","x":75,"y":25.842},{"p":9,"s":"n=0.1","x":80,"y":25.832},{"p":9,"s":"n=0.1","x":85,"y":25.801},{"p":9,"s":"n=0.1","x":88,"y":25.772},{"p":9,"s":"n=0.1","x":90,"y":25.745},{"p":9,"s":"n=0.1","x":92,"y":25.707},{"p":9,"s":"n=0.1","x":94,"y":25.656},{"p":9,"s":"n=0.1","x":96,"y":25.58},{"p":9,"s":"n=0.1","x":97,"y":25.52},{"p":9,"s":"n=0.1","x":98,"y":25.435},{"p":9,"s":"n=0.1","x":99,"y":25.418},{"p":9,"s":"n=0.1","x":100,"y":25.398},
{"p":9,"s":"n=0.2","x":0,"y":24.653},{"p":9,"s":"n=0.2","x":1,"y":24.721},{"p":9,"s":"n=0.2","x":2,"y":24.772},{"p":9,"s":"n=0.2","x":3,"y":24.81},{"p":9,"s":"n=0.2","x":5,"y":24.866},{"p":9,"s":"n=0.2","x":7,"y":24.908},{"p":9,"s":"n=0.2","x":10,"y":24.959},{"p":9,"s":"n=0.2","x":15,"y":25.036},{"p":9,"s":"n=0.2","x":20,"y":25.129},{"p":9,"s":"n=0.2","x":25,"y":25.197},{"p":9,"s":"n=0.2","x":30,"y":25.223},{"p":9,"s":"n=0.2","x":35,"y":25.257},{"p":9,"s":"n=0.2","x":40,"y":25.333},{"p":9,"s":"n=0.2","x":45,"y":25.432},{"p":9,"s":"n=0.2","x":50,"y":25.503},{"p":9,"s":"n=0.2","x":55,"y":25.558},{"p":9,"s":"n=0.2","x":60,"y":25.597},{"p":9,"s":"n=0.2","x":65,"y":25.631},{"p":9,"s":"n=0.2","x":70,"y":25.677},{"p":9,"s":"n=0.2","x":75,"y":25.707},{"p":9,"s":"n=0.2","x":80,"y":25.716},{"p":9,"s":"n=0.2","x":85,"y":25.687},{"p":9,"s":"n=0.2","x":90,"y":25.631},{"p":9,"s":"n=0.2","x":93,"y":25.571},{"p":9,"s":"n=0.2","x":95,"y":25.52},{"p":9,"s":"n=0.2","x":97,"y":25.435},{"p":9,"s":"n=0.2","x":99,"y":25.367},{"p":9,"s":"n=0.2","x":100,"y":25.333},
{"p":9,"s":"n=0.3","x":0,"y":24.526},{"p":9,"s":"n=0.3","x":1,"y":24.585},{"p":9,"s":"n=0.3","x":2,"y":24.628},{"p":9,"s":"n=0.3","x":3,"y":24.673},{"p":9,"s":"n=0.3","x":5,"y":24.721},{"p":9,"s":"n=0.3","x":7,"y":24.764},{"p":9,"s":"n=0.3","x":10,"y":24.815},{"p":9,"s":"n=0.3","x":15,"y":24.854},{"p":9,"s":"n=0.3","x":20,"y":24.883},{"p":9,"s":"n=0.3","x":25,"y":24.895},{"p":9,"s":"n=0.3","x":30,"y":24.942},{"p":9,"s":"n=0.3","x":35,"y":25.002},{"p":9,"s":"n=0.3","x":40,"y":25.073},{"p":9,"s":"n=0.3","x":45,"y":25.146},{"p":9,"s":"n=0.3","x":50,"y":25.223},{"p":9,"s":"n=0.3","x":55,"y":25.299},{"p":9,"s":"n=0.3","x":60,"y":25.359},{"p":9,"s":"n=0.3","x":65,"y":25.41},{"p":9,"s":"n=0.3","x":70,"y":25.452},{"p":9,"s":"n=0.3","x":75,"y":25.478},{"p":9,"s":"n=0.3","x":80,"y":25.537},{"p":9,"s":"n=0.3","x":85,"y":25.568},{"p":9,"s":"n=0.3","x":88,"y":25.571},{"p":9,"s":"n=0.3","x":90,"y":25.563},{"p":9,"s":"n=0.3","x":93,"y":25.537},{"p":9,"s":"n=0.3","x":95,"y":25.503},{"p":9,"s":"n=0.3","x":97,"y":25.435},{"p":9,"s":"n=0.3","x":99,"y":25.35},{"p":9,"s":"n=0.3","x":100,"y":25.316},

{"p":10,"s":"n=0.1","x":0,"y":24.716},{"p":10,"s":"n=0.1","x":0.5,"y":24.736},{"p":10,"s":"n=0.1","x":1,"y":24.739},{"p":10,"s":"n=0.1","x":1.5,"y":24.742},{"p":10,"s":"n=0.1","x":2,"y":24.764},{"p":10,"s":"n=0.1","x":3,"y":24.781},{"p":10,"s":"n=0.1","x":5,"y":24.798},{"p":10,"s":"n=0.1","x":7,"y":24.809},{"p":10,"s":"n=0.1","x":10,"y":24.818},{"p":10,"s":"n=0.1","x":15,"y":24.838},{"p":10,"s":"n=0.1","x":20,"y":24.862},{"p":10,"s":"n=0.1","x":25,"y":24.889},{"p":10,"s":"n=0.1","x":30,"y":24.917},{"p":10,"s":"n=0.1","x":35,"y":24.946},{"p":10,"s":"n=0.1","x":40,"y":24.974},{"p":10,"s":"n=0.1","x":45,"y":24.999},{"p":10,"s":"n=0.1","x":50,"y":25.024},{"p":10,"s":"n=0.1","x":55,"y":25.045},{"p":10,"s":"n=0.1","x":60,"y":25.062},{"p":10,"s":"n=0.1","x":65,"y":25.075},{"p":10,"s":"n=0.1","x":70,"y":25.082},{"p":10,"s":"n=0.1","x":75,"y":25.085},{"p":10,"s":"n=0.1","x":80,"y":25.086},{"p":10,"s":"n=0.1","x":85,"y":25.084},{"p":10,"s":"n=0.1","x":90,"y":25.076},{"p":10,"s":"n=0.1","x":94,"y":25.065},{"p":10,"s":"n=0.1","x":97,"y":25.056},{"p":10,"s":"n=0.1","x":98,"y":25.056},{"p":10,"s":"n=0.1","x":99,"y":25.062},{"p":10,"s":"n=0.1","x":100,"y":25.069},
{"p":10,"s":"n=0.2","x":0,"y":24.634},{"p":10,"s":"n=0.2","x":1,"y":24.657},{"p":10,"s":"n=0.2","x":2,"y":24.674},{"p":10,"s":"n=0.2","x":3,"y":24.686},{"p":10,"s":"n=0.2","x":5,"y":24.696},{"p":10,"s":"n=0.2","x":7,"y":24.702},{"p":10,"s":"n=0.2","x":10,"y":24.709},{"p":10,"s":"n=0.2","x":15,"y":24.725},{"p":10,"s":"n=0.2","x":20,"y":24.747},{"p":10,"s":"n=0.2","x":25,"y":24.776},{"p":10,"s":"n=0.2","x":30,"y":24.807},{"p":10,"s":"n=0.2","x":35,"y":24.841},{"p":10,"s":"n=0.2","x":40,"y":24.878},{"p":10,"s":"n=0.2","x":45,"y":24.915},{"p":10,"s":"n=0.2","x":50,"y":24.951},{"p":10,"s":"n=0.2","x":55,"y":24.98},{"p":10,"s":"n=0.2","x":60,"y":25.005},{"p":10,"s":"n=0.2","x":65,"y":25.028},{"p":10,"s":"n=0.2","x":70,"y":25.045},{"p":10,"s":"n=0.2","x":75,"y":25.057},{"p":10,"s":"n=0.2","x":80,"y":25.063},{"p":10,"s":"n=0.2","x":85,"y":25.065},{"p":10,"s":"n=0.2","x":88,"y":25.063},{"p":10,"s":"n=0.2","x":90,"y":25.059},{"p":10,"s":"n=0.2","x":94,"y":25.049},{"p":10,"s":"n=0.2","x":97,"y":25.042},{"p":10,"s":"n=0.2","x":99,"y":25.048},{"p":10,"s":"n=0.2","x":100,"y":25.055},
{"p":10,"s":"n=0.3","x":0,"y":24.611},{"p":10,"s":"n=0.3","x":0.5,"y":24.631},{"p":10,"s":"n=0.3","x":1,"y":24.633},{"p":10,"s":"n=0.3","x":2,"y":24.66},{"p":10,"s":"n=0.3","x":3,"y":24.674},{"p":10,"s":"n=0.3","x":5,"y":24.684},{"p":10,"s":"n=0.3","x":7,"y":24.691},{"p":10,"s":"n=0.3","x":10,"y":24.698},{"p":10,"s":"n=0.3","x":15,"y":24.713},{"p":10,"s":"n=0.3","x":20,"y":24.736},{"p":10,"s":"n=0.3","x":25,"y":24.763},{"p":10,"s":"n=0.3","x":30,"y":24.793},{"p":10,"s":"n=0.3","x":35,"y":24.827},{"p":10,"s":"n=0.3","x":40,"y":24.862},{"p":10,"s":"n=0.3","x":45,"y":24.9},{"p":10,"s":"n=0.3","x":50,"y":24.937},{"p":10,"s":"n=0.3","x":55,"y":24.968},{"p":10,"s":"n=0.3","x":60,"y":24.994},{"p":10,"s":"n=0.3","x":65,"y":25.018},{"p":10,"s":"n=0.3","x":70,"y":25.037},{"p":10,"s":"n=0.3","x":75,"y":25.051},{"p":10,"s":"n=0.3","x":80,"y":25.058},{"p":10,"s":"n=0.3","x":85,"y":25.061},{"p":10,"s":"n=0.3","x":88,"y":25.06},{"p":10,"s":"n=0.3","x":90,"y":25.056},{"p":10,"s":"n=0.3","x":94,"y":25.045},{"p":10,"s":"n=0.3","x":97,"y":25.039},{"p":10,"s":"n=0.3","x":99,"y":25.045},{"p":10,"s":"n=0.3","x":100,"y":25.049},

{"p":11,"s":"m=0.1","x":0,"y":24.866},{"p":11,"s":"m=0.1","x":0.5,"y":24.908},{"p":11,"s":"m=0.1","x":1,"y":24.922},{"p":11,"s":"m=0.1","x":1.5,"y":24.925},{"p":11,"s":"m=0.1","x":2,"y":24.976},{"p":11,"s":"m=0.1","x":3,"y":25.044},{"p":11,"s":"m=0.1","x":4,"y":25.099},{"p":11,"s":"m=0.1","x":5,"y":25.146},{"p":11,"s":"m=0.1","x":7,"y":25.223},{"p":11,"s":"m=0.1","x":10,"y":25.291},{"p":11,"s":"m=0.1","x":15,"y":25.384},{"p":11,"s":"m=0.1","x":20,"y":25.469},{"p":11,"s":"m=0.1","x":25,"y":25.537},{"p":11,"s":"m=0.1","x":30,"y":25.597},{"p":11,"s":"m=0.1","x":35,"y":25.634},{"p":11,"s":"m=0.1","x":40,"y":25.66},{"p":11,"s":"m=0.1","x":45,"y":25.687},{"p":11,"s":"m=0.1","x":50,"y":25.707},{"p":11,"s":"m=0.1","x":55,"y":25.745},{"p":11,"s":"m=0.1","x":60,"y":25.784},{"p":11,"s":"m=0.1","x":65,"y":25.818},{"p":11,"s":"m=0.1","x":70,"y":25.84},{"p":11,"s":"m=0.1","x":73,"y":25.844},{"p":11,"s":"m=0.1","x":75,"y":25.842},{"p":11,"s":"m=0.1","x":80,"y":25.832},{"p":11,"s":"m=0.1","x":85,"y":25.801},{"p":11,"s":"m=0.1","x":88,"y":25.772},{"p":11,"s":"m=0.1","x":90,"y":25.745},{"p":11,"s":"m=0.1","x":92,"y":25.707},{"p":11,"s":"m=0.1","x":94,"y":25.656},{"p":11,"s":"m=0.1","x":96,"y":25.58},{"p":11,"s":"m=0.1","x":97,"y":25.52},{"p":11,"s":"m=0.1","x":98,"y":25.435},{"p":11,"s":"m=0.1","x":99,"y":25.418},{"p":11,"s":"m=0.1","x":100,"y":25.398},
{"p":11,"s":"m=0.2","x":0,"y":25.059},{"p":11,"s":"m=0.2","x":1,"y":25.154},{"p":11,"s":"m=0.2","x":2,"y":25.222},{"p":11,"s":"m=0.2","x":3,"y":25.269},{"p":11,"s":"m=0.2","x":5,"y":25.331},{"p":11,"s":"m=0.2","x":7,"y":25.374},{"p":11,"s":"m=0.2","x":10,"y":25.426},{"p":11,"s":"m=0.2","x":15,"y":25.487},{"p":11,"s":"m=0.2","x":20,"y":25.548},{"p":11,"s":"m=0.2","x":25,"y":25.596},{"p":11,"s":"m=0.2","x":30,"y":25.637},{"p":11,"s":"m=0.2","x":35,"y":25.664},{"p":11,"s":"m=0.2","x":40,"y":25.682},{"p":11,"s":"m=0.2","x":45,"y":25.695},{"p":11,"s":"m=0.2","x":50,"y":25.714},{"p":11,"s":"m=0.2","x":55,"y":25.746},{"p":11,"s":"m=0.2","x":60,"y":25.773},{"p":11,"s":"m=0.2","x":65,"y":25.789},{"p":11,"s":"m=0.2","x":70,"y":25.8},{"p":11,"s":"m=0.2","x":75,"y":25.799},{"p":11,"s":"m=0.2","x":80,"y":25.782},{"p":11,"s":"m=0.2","x":85,"y":25.752},{"p":11,"s":"m=0.2","x":90,"y":25.725},{"p":11,"s":"m=0.2","x":93,"y":25.695},{"p":11,"s":"m=0.2","x":95,"y":25.644},{"p":11,"s":"m=0.2","x":97,"y":25.576},{"p":11,"s":"m=0.2","x":99,"y":25.494},{"p":11,"s":"m=0.2","x":100,"y":25.467},
{"p":11,"s":"m=0.3","x":0,"y":25.208},{"p":11,"s":"m=0.3","x":1,"y":25.29},{"p":11,"s":"m=0.3","x":2,"y":25.351},{"p":11,"s":"m=0.3","x":3,"y":25.399},{"p":11,"s":"m=0.3","x":5,"y":25.467},{"p":11,"s":"m=0.3","x":7,"y":25.507},{"p":11,"s":"m=0.3","x":10,"y":25.548},{"p":11,"s":"m=0.3","x":15,"y":25.589},{"p":11,"s":"m=0.3","x":20,"y":25.614},{"p":11,"s":"m=0.3","x":25,"y":25.633},{"p":11,"s":"m=0.3","x":30,"y":25.646},{"p":11,"s":"m=0.3","x":35,"y":25.653},{"p":11,"s":"m=0.3","x":40,"y":25.652},{"p":11,"s":"m=0.3","x":45,"y":25.657},{"p":11,"s":"m=0.3","x":50,"y":25.671},{"p":11,"s":"m=0.3","x":55,"y":25.695},{"p":11,"s":"m=0.3","x":60,"y":25.722},{"p":11,"s":"m=0.3","x":65,"y":25.736},{"p":11,"s":"m=0.3","x":70,"y":25.75},{"p":11,"s":"m=0.3","x":75,"y":25.761},{"p":11,"s":"m=0.3","x":80,"y":25.763},{"p":11,"s":"m=0.3","x":85,"y":25.755},{"p":11,"s":"m=0.3","x":90,"y":25.725},{"p":11,"s":"m=0.3","x":93,"y":25.695},{"p":11,"s":"m=0.3","x":95,"y":25.657},{"p":11,"s":"m=0.3","x":97,"y":25.603},{"p":11,"s":"m=0.3","x":99,"y":25.548},{"p":11,"s":"m=0.3","x":100,"y":25.528},

{"p":12,"s":"m=0.1","x":0,"y":24.716},{"p":12,"s":"m=0.1","x":0.5,"y":24.736},{"p":12,"s":"m=0.1","x":1,"y":24.739},{"p":12,"s":"m=0.1","x":1.5,"y":24.742},{"p":12,"s":"m=0.1","x":2,"y":24.764},{"p":12,"s":"m=0.1","x":3,"y":24.781},{"p":12,"s":"m=0.1","x":5,"y":24.798},{"p":12,"s":"m=0.1","x":7,"y":24.809},{"p":12,"s":"m=0.1","x":10,"y":24.818},{"p":12,"s":"m=0.1","x":15,"y":24.838},{"p":12,"s":"m=0.1","x":20,"y":24.862},{"p":12,"s":"m=0.1","x":25,"y":24.889},{"p":12,"s":"m=0.1","x":30,"y":24.917},{"p":12,"s":"m=0.1","x":35,"y":24.946},{"p":12,"s":"m=0.1","x":40,"y":24.974},{"p":12,"s":"m=0.1","x":45,"y":24.999},{"p":12,"s":"m=0.1","x":50,"y":25.024},{"p":12,"s":"m=0.1","x":55,"y":25.045},{"p":12,"s":"m=0.1","x":60,"y":25.062},{"p":12,"s":"m=0.1","x":65,"y":25.075},{"p":12,"s":"m=0.1","x":70,"y":25.082},{"p":12,"s":"m=0.1","x":75,"y":25.085},{"p":12,"s":"m=0.1","x":80,"y":25.086},{"p":12,"s":"m=0.1","x":85,"y":25.084},{"p":12,"s":"m=0.1","x":90,"y":25.076},{"p":12,"s":"m=0.1","x":94,"y":25.065},{"p":12,"s":"m=0.1","x":97,"y":25.056},{"p":12,"s":"m=0.1","x":98,"y":25.056},{"p":12,"s":"m=0.1","x":99,"y":25.062},{"p":12,"s":"m=0.1","x":100,"y":25.069},
{"p":12,"s":"m=0.2","x":0,"y":24.656},{"p":12,"s":"m=0.2","x":1,"y":24.703},{"p":12,"s":"m=0.2","x":2,"y":24.743},{"p":12,"s":"m=0.2","x":3,"y":24.771},{"p":12,"s":"m=0.2","x":5,"y":24.8},{"p":12,"s":"m=0.2","x":7,"y":24.822},{"p":12,"s":"m=0.2","x":10,"y":24.842},{"p":12,"s":"m=0.2","x":15,"y":24.874},{"p":12,"s":"m=0.2","x":20,"y":24.906},{"p":12,"s":"m=0.2","x":25,"y":24.933},{"p":12,"s":"m=0.2","x":30,"y":24.959},{"p":12,"s":"m=0.2","x":35,"y":24.981},{"p":12,"s":"m=0.2","x":40,"y":25.005},{"p":12,"s":"m=0.2","x":45,"y":25.025},{"p":12,"s":"m=0.2","x":50,"y":25.044},{"p":12,"s":"m=0.2","x":55,"y":25.06},{"p":12,"s":"m=0.2","x":60,"y":25.075},{"p":12,"s":"m=0.2","x":65,"y":25.086},{"p":12,"s":"m=0.2","x":70,"y":25.092},{"p":12,"s":"m=0.2","x":75,"y":25.094},{"p":12,"s":"m=0.2","x":80,"y":25.088},{"p":12,"s":"m=0.2","x":85,"y":25.072},{"p":12,"s":"m=0.2","x":88,"y":25.056},{"p":12,"s":"m=0.2","x":90,"y":25.043},{"p":12,"s":"m=0.2","x":93,"y":25.013},{"p":12,"s":"m=0.2","x":95,"y":24.993},{"p":12,"s":"m=0.2","x":97,"y":24.973},{"p":12,"s":"m=0.2","x":100,"y":24.953},
{"p":12,"s":"m=0.3","x":0,"y":24.83},{"p":12,"s":"m=0.3","x":0.5,"y":24.846},{"p":12,"s":"m=0.3","x":1,"y":24.854},{"p":12,"s":"m=0.3","x":2,"y":24.874},{"p":12,"s":"m=0.3","x":3,"y":24.89},{"p":12,"s":"m=0.3","x":5,"y":24.902},{"p":12,"s":"m=0.3","x":7,"y":24.908},{"p":12,"s":"m=0.3","x":10,"y":24.916},{"p":12,"s":"m=0.3","x":15,"y":24.932},{"p":12,"s":"m=0.3","x":20,"y":24.957},{"p":12,"s":"m=0.3","x":25,"y":24.981},{"p":12,"s":"m=0.3","x":30,"y":25.003},{"p":12,"s":"m=0.3","x":35,"y":25.025},{"p":12,"s":"m=0.3","x":40,"y":25.044},{"p":12,"s":"m=0.3","x":45,"y":25.06},{"p":12,"s":"m=0.3","x":50,"y":25.076},{"p":12,"s":"m=0.3","x":55,"y":25.088},{"p":12,"s":"m=0.3","x":60,"y":25.096},{"p":12,"s":"m=0.3","x":65,"y":25.102},{"p":12,"s":"m=0.3","x":70,"y":25.106},{"p":12,"s":"m=0.3","x":75,"y":25.108},{"p":12,"s":"m=0.3","x":80,"y":25.106},{"p":12,"s":"m=0.3","x":85,"y":25.102},{"p":12,"s":"m=0.3","x":90,"y":25.096},{"p":12,"s":"m=0.3","x":94,"y":25.088},{"p":12,"s":"m=0.3","x":97,"y":25.086},{"p":12,"s":"m=0.3","x":98,"y":25.092},{"p":12,"s":"m=0.3","x":100,"y":25.106}
]},
"columns": 4,
"bounds": "flush",
"spacing": {"row": 50, "column": 84},
"resolve": {"scale": {"x": "independent", "y": "independent", "color": "independent", "strokeDash": "independent"}, "legend": {"color": "independent", "strokeDash": "independent"}},
"concat": [
 {"title": {"text": "m = 0.1", "dx": 196}, "width": 374, "height": 294, "transform": [{"filter": "datum.p == 1"}],
  "layer": [
   {"mark": {"type": "line", "strokeWidth": 1.8, "clip": true}, "encoding": {
     "x": {"field": "x", "type": "quantitative", "scale": {"domain": [0, 100], "nice": false}, "axis": {"values": [0, 20, 40, 60, 80, 100], "title": null}},
     "y": {"field": "y", "type": "quantitative", "scale": {"domain": [24.8, 26.2], "nice": false, "zero": false}, "axis": {"values": [24.8, 25, 25.2, 25.4, 25.6, 25.8, 26, 26.2], "format": ".1~f", "title": "Upper interface"}},
     "color": {"field": "s", "type": "nominal", "scale": {"range": ["#0000ff", "#008000", "#ff0000"]}, "legend": {"title": null}},
     "strokeDash": {"field": "s", "type": "nominal", "scale": {"range": [[1, 0], [8, 3, 2, 3], [5, 4]]}, "legend": {"title": null}}}},
   {"mark": {"type": "point", "opacity": 0}, "encoding": {
     "x": {"field": "x", "type": "quantitative", "axis": {"orient": "top", "labels": false, "title": "(a) Material derivation", "titleFontSize": 27, "values": [0, 20, 40, 60, 80, 100]}},
     "y": {"field": "y", "type": "quantitative", "axis": {"orient": "right", "labels": false, "title": null, "values": [24.8, 25, 25.2, 25.4, 25.6, 25.8, 26, 26.2]}}}}
  ],
  "resolve": {"axis": {"x": "independent", "y": "independent"}}},
 {"width": 374, "height": 294, "transform": [{"filter": "datum.p == 2"}],
  "layer": [
   {"mark": {"type": "line", "strokeWidth": 1.8, "clip": true}, "encoding": {
     "x": {"field": "x", "type": "quantitative", "scale": {"domain": [0, 100], "nice": false}, "axis": {"values": [0, 20, 40, 60, 80, 100], "title": null}},
     "y": {"field": "y", "type": "quantitative", "scale": {"domain": [24.6, 25.6], "nice": false, "zero": false}, "axis": {"values": [24.6, 24.8, 25, 25.2, 25.4, 25.6], "format": ".1~f", "title": null}},
     "color": {"field": "s", "type": "nominal", "scale": {"range": ["#0000ff", "#008000", "#ff0000"]}, "legend": {"title": null}},
     "strokeDash": {"field": "s", "type": "nominal", "scale": {"range": [[1, 0], [8, 3, 2, 3], [5, 4]]}, "legend": {"title": null}}}},
   {"mark": {"type": "point", "opacity": 0}, "encoding": {
     "x": {"field": "x", "type": "quantitative", "axis": {"orient": "top", "labels": false, "title": "(b) No-material derivation", "titleFontSize": 27, "values": [0, 20, 40, 60, 80, 100]}},
     "y": {"field": "y", "type": "quantitative", "axis": {"orient": "right", "labels": false, "title": null, "values": [24.6, 24.8, 25, 25.2, 25.4, 25.6]}}}}
  ],
  "resolve": {"axis": {"x": "independent", "y": "independent"}}},
 {"title": {"text": "n = 0.1", "dx": 218}, "width": 374, "height": 294, "transform": [{"filter": "datum.p == 3"}],
  "layer": [
   {"mark": {"type": "line", "strokeWidth": 1.8, "clip": true}, "encoding": {
     "x": {"field": "x", "type": "quantitative", "scale": {"domain": [0, 100], "nice": false}, "axis": {"values": [0, 20, 40, 60, 80, 100], "title": null}},
     "y": {"field": "y", "type": "quantitative", "scale": {"domain": [25.4, 26.1], "nice": false, "zero": false}, "axis": {"values": [25.4, 25.5, 25.6, 25.7, 25.8, 25.9, 26, 26.1], "format": ".1~f", "title": null}},
     "color": {"field": "s", "type": "nominal", "scale": {"range": ["#0000ff", "#008000", "#ff0000"]}, "legend": {"title": null}},
     "strokeDash": {"field": "s", "type": "nominal", "scale": {"range": [[1, 0], [8, 3, 2, 3], [5, 4]]}, "legend": {"title": null}}}},
   {"mark": {"type": "point", "opacity": 0}, "encoding": {
     "x": {"field": "x", "type": "quantitative", "axis": {"orient": "top", "labels": false, "title": "(a) Material derivation", "titleFontSize": 27, "values": [0, 20, 40, 60, 80, 100]}},
     "y": {"field": "y", "type": "quantitative", "axis": {"orient": "right", "labels": false, "title": null, "values": [25.4, 25.5, 25.6, 25.7, 25.8, 25.9, 26, 26.1]}}}}
  ],
  "resolve": {"axis": {"x": "independent", "y": "independent"}}},
 {"width": 374, "height": 294, "transform": [{"filter": "datum.p == 4"}],
  "layer": [
   {"mark": {"type": "line", "strokeWidth": 1.8, "clip": true}, "encoding": {
     "x": {"field": "x", "type": "quantitative", "scale": {"domain": [0, 100], "nice": false}, "axis": {"values": [0, 20, 40, 60, 80, 100], "title": null}},
     "y": {"field": "y", "type": "quantitative", "scale": {"domain": [24.9, 25.6], "nice": false, "zero": false}, "axis": {"values": [24.9, 25, 25.1, 25.2, 25.3, 25.4, 25.5, 25.6], "format": ".1~f", "title": null}},
     "color": {"field": "s", "type": "nominal", "scale": {"range": ["#0000ff", "#008000", "#ff0000"]}, "legend": {"title": null}},
     "strokeDash": {"field": "s", "type": "nominal", "scale": {"range": [[1, 0], [8, 3, 2, 3], [5, 4]]}, "legend": {"title": null}}}},
   {"mark": {"type": "point", "opacity": 0}, "encoding": {
     "x": {"field": "x", "type": "quantitative", "axis": {"orient": "top", "labels": false, "title": "(b) No-material derivation", "titleFontSize": 27, "values": [0, 20, 40, 60, 80, 100]}},
     "y": {"field": "y", "type": "quantitative", "axis": {"orient": "right", "labels": false, "title": null, "values": [24.9, 25, 25.1, 25.2, 25.3, 25.4, 25.5, 25.6]}}}}
  ],
  "resolve": {"axis": {"x": "independent", "y": "independent"}}},
 {"width": 374, "height": 294, "transform": [{"filter": "datum.p == 5"}],
  "layer": [
   {"mark": {"type": "line", "strokeWidth": 1.8, "clip": true}, "encoding": {
     "x": {"field": "x", "type": "quantitative", "scale": {"domain": [0, 100], "nice": false}, "axis": {"values": [0, 20, 40, 60, 80, 100], "title": null}},
     "y": {"field": "y", "type": "quantitative", "scale": {"domain": [24.8, 26], "nice": false, "zero": false}, "axis": {"values": [24.8, 25, 25.2, 25.4, 25.6, 25.8, 26], "format": ".1~f", "title": "Adhesive mid-line"}},
     "color": {"field": "s", "type": "nominal", "scale": {"range": ["#0000ff", "#008000", "#ff0000"]}, "legend": {"title": null}},
     "strokeDash": {"field": "s", "type": "nominal", "scale": {"range": [[1, 0], [8, 3, 2, 3], [5, 4]]}, "legend": {"title": null}}}},
   {"mark": {"type": "point", "opacity": 0}, "encoding": {
     "x": {"field": "x", "type": "quantitative", "axis": {"orient": "top", "labels": false, "title": null, "values": [0, 20, 40, 60, 80, 100]}},
     "y": {"field": "y", "type": "quantitative", "axis": {"orient": "right", "labels": false, "title": null, "values": [24.8, 25, 25.2, 25.4, 25.6, 25.8, 26]}}}}
  ],
  "resolve": {"axis": {"x": "independent", "y": "independent"}}},
 {"width": 374, "height": 294, "transform": [{"filter": "datum.p == 6"}],
  "layer": [
   {"mark": {"type": "line", "strokeWidth": 1.8, "clip": true}, "encoding": {
     "x": {"field": "x", "type": "quantitative", "scale": {"domain": [0, 100], "nice": false}, "axis": {"values": [0, 20, 40, 60, 80, 100], "title": null}},
     "y": {"field": "y", "type": "quantitative", "scale": {"domain": [24.7, 25.4], "nice": false, "zero": false}, "axis": {"values": [24.8, 24.9, 25, 25.1, 25.2, 25.3, 25.4], "format": ".1~f", "title": null}},
     "color": {"field": "s", "type": "nominal", "scale": {"range": ["#0000ff", "#008000", "#ff0000"]}, "legend": {"title": null}},
     "strokeDash": {"field": "s", "type": "nominal", "scale": {"range": [[1, 0], [8, 3, 2, 3], [5, 4]]}, "legend": {"title": null}}}},
   {"mark": {"type": "point", "opacity": 0}, "encoding": {
     "x": {"field": "x", "type": "quantitative", "axis": {"orient": "top", "labels": false, "title": null, "values": [0, 20, 40, 60, 80, 100]}},
     "y": {"field": "y", "type": "quantitative", "axis": {"orient": "right", "labels": false, "title": null, "values": [24.8, 24.9, 25, 25.1, 25.2, 25.3, 25.4]}}}}
  ],
  "resolve": {"axis": {"x": "independent", "y": "independent"}}},
 {"width": 374, "height": 294, "transform": [{"filter": "datum.p == 7"}],
  "layer": [
   {"mark": {"type": "line", "strokeWidth": 1.8, "clip": true}, "encoding": {
     "x": {"field": "x", "type": "quantitative", "scale": {"domain": [0, 100], "nice": false}, "axis": {"values": [0, 20, 40, 60, 80, 100], "title": null}},
     "y": {"field": "y", "type": "quantitative", "scale": {"domain": [25.2, 26.2], "nice": false, "zero": false}, "axis": {"values": [25.4, 25.6, 25.8, 26, 26.2], "format": ".1~f", "title": null}},
     "color": {"field": "s", "type": "nominal", "scale": {"range": ["#0000ff", "#008000", "#ff0000"]}, "legend": {"title": null}},
     "strokeDash": {"field": "s", "type": "nominal", "scale": {"range": [[1, 0], [8, 3, 2, 3], [5, 4]]}, "legend": {"title": null}}}},
   {"mark": {"type": "point", "opacity": 0}, "encoding": {
     "x": {"field": "x", "type": "quantitative", "axis": {"orient": "top", "labels": false, "title": null, "values": [0, 20, 40, 60, 80, 100]}},
     "y": {"field": "y", "type": "quantitative", "axis": {"orient": "right", "labels": false, "title": null, "values": [25.4, 25.6, 25.8, 26, 26.2]}}}}
  ],
  "resolve": {"axis": {"x": "independent", "y": "independent"}}},
 {"width": 374, "height": 294, "transform": [{"filter": "datum.p == 8"}],
  "layer": [
   {"mark": {"type": "line", "strokeWidth": 1.8, "clip": true}, "encoding": {
     "x": {"field": "x", "type": "quantitative", "scale": {"domain": [0, 100], "nice": false}, "axis": {"values": [0, 20, 40, 60, 80, 100], "title": null}},
     "y": {"field": "y", "type": "quantitative", "scale": {"domain": [24.8, 25.5], "nice": false, "zero": false}, "axis": {"values": [24.8, 24.9, 25, 25.1, 25.2, 25.3, 25.4, 25.5], "format": ".1~f", "title": null}},
     "color": {"field": "s", "type": "nominal", "scale": {"range": ["#0000ff", "#008000", "#ff0000"]}, "legend": {"title": null}},
     "strokeDash": {"field": "s", "type": "nominal", "scale": {"range": [[1, 0], [8, 3, 2, 3], [5, 4]]}, "legend": {"title": null}}}},
   {"mark": {"type": "point", "opacity": 0}, "encoding": {
     "x": {"field": "x", "type": "quantitative", "axis": {"orient": "top", "labels": false, "title": null, "values": [0, 20, 40, 60, 80, 100]}},
     "y": {"field": "y", "type": "quantitative", "axis": {"orient": "right", "labels": false, "title": null, "values": [24.8, 24.9, 25, 25.1, 25.2, 25.3, 25.4, 25.5]}}}}
  ],
  "resolve": {"axis": {"x": "independent", "y": "independent"}}},
 {"width": 374, "height": 294, "transform": [{"filter": "datum.p == 9"}],
  "layer": [
   {"mark": {"type": "line", "strokeWidth": 1.8, "clip": true}, "encoding": {
     "x": {"field": "x", "type": "quantitative", "scale": {"domain": [0, 100], "nice": false}, "axis": {"values": [0, 20, 40, 60, 80, 100], "title": null}},
     "y": {"field": "y", "type": "quantitative", "scale": {"domain": [24.5, 26], "nice": false, "zero": false}, "axis": {"values": [24.5, 25, 25.5, 26], "format": ".1~f", "title": "Lower interface"}},
     "color": {"field": "s", "type": "nominal", "scale": {"range": ["#0000ff", "#008000", "#ff0000"]}, "legend": {"title": null}},
     "strokeDash": {"field": "s", "type": "nominal", "scale": {"range": [[1, 0], [8, 3, 2, 3], [5, 4]]}, "legend": {"title": null}}}},
   {"mark": {"type": "point", "opacity": 0}, "encoding": {
     "x": {"field": "x", "type": "quantitative", "axis": {"orient": "top", "labels": false, "title": null, "values": [0, 20, 40, 60, 80, 100]}},
     "y": {"field": "y", "type": "quantitative", "axis": {"orient": "right", "labels": false, "title": null, "values": [24.5, 25, 25.5, 26]}}}}
  ],
  "resolve": {"axis": {"x": "independent", "y": "independent"}}},
 {"width": 374, "height": 294, "transform": [{"filter": "datum.p == 10"}],
  "layer": [
   {"mark": {"type": "line", "strokeWidth": 1.8, "clip": true}, "encoding": {
     "x": {"field": "x", "type": "quantitative", "scale": {"domain": [0, 100], "nice": false}, "axis": {"values": [0, 20, 40, 60, 80, 100], "title": null}},
     "y": {"field": "y", "type": "quantitative", "scale": {"domain": [24.6, 25.1], "nice": false, "zero": false}, "axis": {"values": [24.6, 24.7, 24.8, 24.9, 25, 25.1], "format": ".1~f", "title": null}},
     "color": {"field": "s", "type": "nominal", "scale": {"range": ["#0000ff", "#008000", "#ff0000"]}, "legend": {"title": null}},
     "strokeDash": {"field": "s", "type": "nominal", "scale": {"range": [[1, 0], [8, 3, 2, 3], [5, 4]]}, "legend": {"title": null}}}},
   {"mark": {"type": "point", "opacity": 0}, "encoding": {
     "x": {"field": "x", "type": "quantitative", "axis": {"orient": "top", "labels": false, "title": null, "values": [0, 20, 40, 60, 80, 100]}},
     "y": {"field": "y", "type": "quantitative", "axis": {"orient": "right", "labels": false, "title": null, "values": [24.6, 24.7, 24.8, 24.9, 25, 25.1]}}}}
  ],
  "resolve": {"axis": {"x": "independent", "y": "independent"}}},
 {"width": 374, "height": 294, "transform": [{"filter": "datum.p == 11"}],
  "layer": [
   {"mark": {"type": "line", "strokeWidth": 1.8, "clip": true}, "encoding": {
     "x": {"field": "x", "type": "quantitative", "scale": {"domain": [0, 100], "nice": false}, "axis": {"values": [0, 20, 40, 60, 80, 100], "title": null}},
     "y": {"field": "y", "type": "quantitative", "scale": {"domain": [24.8, 26], "nice": false, "zero": false}, "axis": {"values": [24.8, 25, 25.2, 25.4, 25.6, 25.8, 26], "format": ".1~f", "title": null}},
     "color": {"field": "s", "type": "nominal", "scale": {"range": ["#0000ff", "#008000", "#ff0000"]}, "legend": {"title": null}},
     "strokeDash": {"field": "s", "type": "nominal", "scale": {"range": [[1, 0], [8, 3, 2, 3], [5, 4]]}, "legend": {"title": null}}}},
   {"mark": {"type": "point", "opacity": 0}, "encoding": {
     "x": {"field": "x", "type": "quantitative", "axis": {"orient": "top", "labels": false, "title": null, "values": [0, 20, 40, 60, 80, 100]}},
     "y": {"field": "y", "type": "quantitative", "axis": {"orient": "right", "labels": false, "title": null, "values": [24.8, 25, 25.2, 25.4, 25.6, 25.8, 26]}}}}
  ],
  "resolve": {"axis": {"x": "independent", "y": "independent"}}},
 {"width": 374, "height": 294, "transform": [{"filter": "datum.p == 12"}],
  "layer": [
   {"mark": {"type": "line", "strokeWidth": 1.8, "clip": true}, "encoding": {
     "x": {"field": "x", "type": "quantitative", "scale": {"domain": [0, 100], "nice": false}, "axis": {"values": [0, 20, 40, 60, 80, 100], "title": null}},
     "y": {"field": "y", "type": "quantitative", "scale": {"domain": [24.6, 25.3], "nice": false, "zero": false}, "axis": {"values": [24.6, 24.7, 24.8, 24.9, 25, 25.1, 25.2, 25.3], "format": ".1~f", "title": null}},
     "color": {"field": "s", "type": "nominal", "scale": {"range": ["#0000ff", "#008000", "#ff0000"]}, "legend": {"title": null}},
     "strokeDash": {"field": "s", "type": "nominal", "scale": {"range": [[1, 0], [8, 3, 2, 3], [5, 4]]}, "legend": {"title": null}}}},
   {"mark": {"type": "point", "opacity": 0}, "encoding": {
     "x": {"field": "x", "type": "quantitative", "axis": {"orient": "top", "labels": false, "title": null, "values": [0, 20, 40, 60, 80, 100]}},
     "y": {"field": "y", "type": "quantitative", "axis": {"orient": "right", "labels": false, "title": null, "values": [24.6, 24.7, 24.8, 24.9, 25, 25.1, 25.2, 25.3]}}}}
  ],
  "resolve": {"axis": {"x": "independent", "y": "independent"}}}
]
}
